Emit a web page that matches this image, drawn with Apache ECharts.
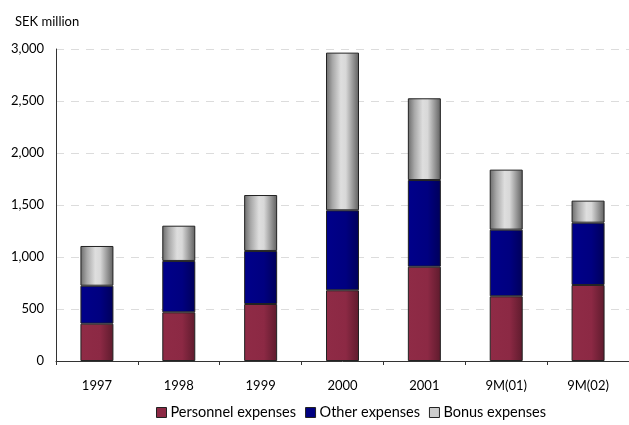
<!DOCTYPE html>
<html><head><meta charset="utf-8">
<script src="https://cdn.jsdelivr.net/npm/echarts@6/dist/echarts.min.js"></script>
<style>html,body{margin:0;padding:0;background:#fff}#c{width:629px;height:425px}</style>
</head><body><div id="c"></div>
<script>
const categories = ['1997','1998','1999','2000','2001','9M(01)','9M(02)'];
const personnel = [359, 468, 548, 680, 907, 622, 731];
const other = [365, 494, 510, 769, 833, 641, 599];
const bonus = [382, 339, 538, 1516, 786, 577, 212];
const yTicks = [0, 500, 1000, 1500, 2000, 2500, 3000];

const FONT = 'Lato';
function grad(stops){
  return new echarts.graphic.LinearGradient(0,0,1,0, stops.map(s=>({offset:s[0],color:s[1]})));
}
const redFill = grad([[0,'#8f2b46'],[0.6,'#8c2944'],[1,'#5e1b2d']]);
const blueFill = grad([[0,'#00008a'],[0.6,'#000080'],[1,'#00005a']]);
const grayFill = grad([[0,'#6a6a6a'],[0.2,'#a8a8a8'],[0.45,'#dedede'],[0.6,'#d8d8d8'],[0.85,'#8c8c8c'],[1,'#5e5e5e']]);

const chart = echarts.init(document.getElementById('c'));
const baseSeries = {type:'bar', stack:'a', barWidth:33};
chart.setOption({
  animation:false,
  title:{text:'SEK million', left:10, top:10, textStyle:{fontFamily:FONT, fontSize:13, fontWeight:'normal', color:'#000'}},
  grid:{left:56, right:-5, top:49, bottom:64},
  legend:{bottom:0, left:151, itemWidth:10, itemHeight:10, itemGap:9, icon:'rect',
    textStyle:{fontFamily:FONT, fontSize:14.5, color:'#000', padding:[0,0,0,-1]},
    data:[
      {name:'Personnel expenses', itemStyle:{color:'#8c2944', borderColor:'#222', borderWidth:1}},
      {name:'Other expenses', itemStyle:{color:'#000080', borderColor:'#222', borderWidth:1}},
      {name:'Bonus expenses', itemStyle:{color:'#cccccc', borderColor:'#222', borderWidth:1}}
    ]},
  xAxis:{type:'category', data:categories,
    axisLine:{lineStyle:{color:'#333', width:1}},
    axisTick:{show:true, length:4, lineStyle:{color:'#333'}},
    axisLabel:{fontFamily:FONT, fontSize:13, color:'#000', margin:18}},
  yAxis:{type:'value', min:0, max:3000, interval:500,
    axisLine:{show:true, lineStyle:{color:'#333', width:1}},
    axisTick:{show:false},
    splitLine:{lineStyle:{color:'#dcdcdc', type:[8,7]}},
    axisLabel:{fontFamily:FONT, fontSize:13, color:'#000', margin:12,
      formatter:v=>v.toLocaleString('en-US')}},
  series:[
    Object.assign({}, baseSeries, {name:'Personnel expenses', data:personnel, itemStyle:{color:redFill, borderColor:'#222', borderWidth:1}}),
    Object.assign({}, baseSeries, {name:'Other expenses', data:other, itemStyle:{color:blueFill, borderColor:'#222', borderWidth:1}}),
    Object.assign({}, baseSeries, {name:'Bonus expenses', data:bonus, itemStyle:{color:grayFill, borderColor:'#222', borderWidth:1}})
  ]
});
</script></body></html>
